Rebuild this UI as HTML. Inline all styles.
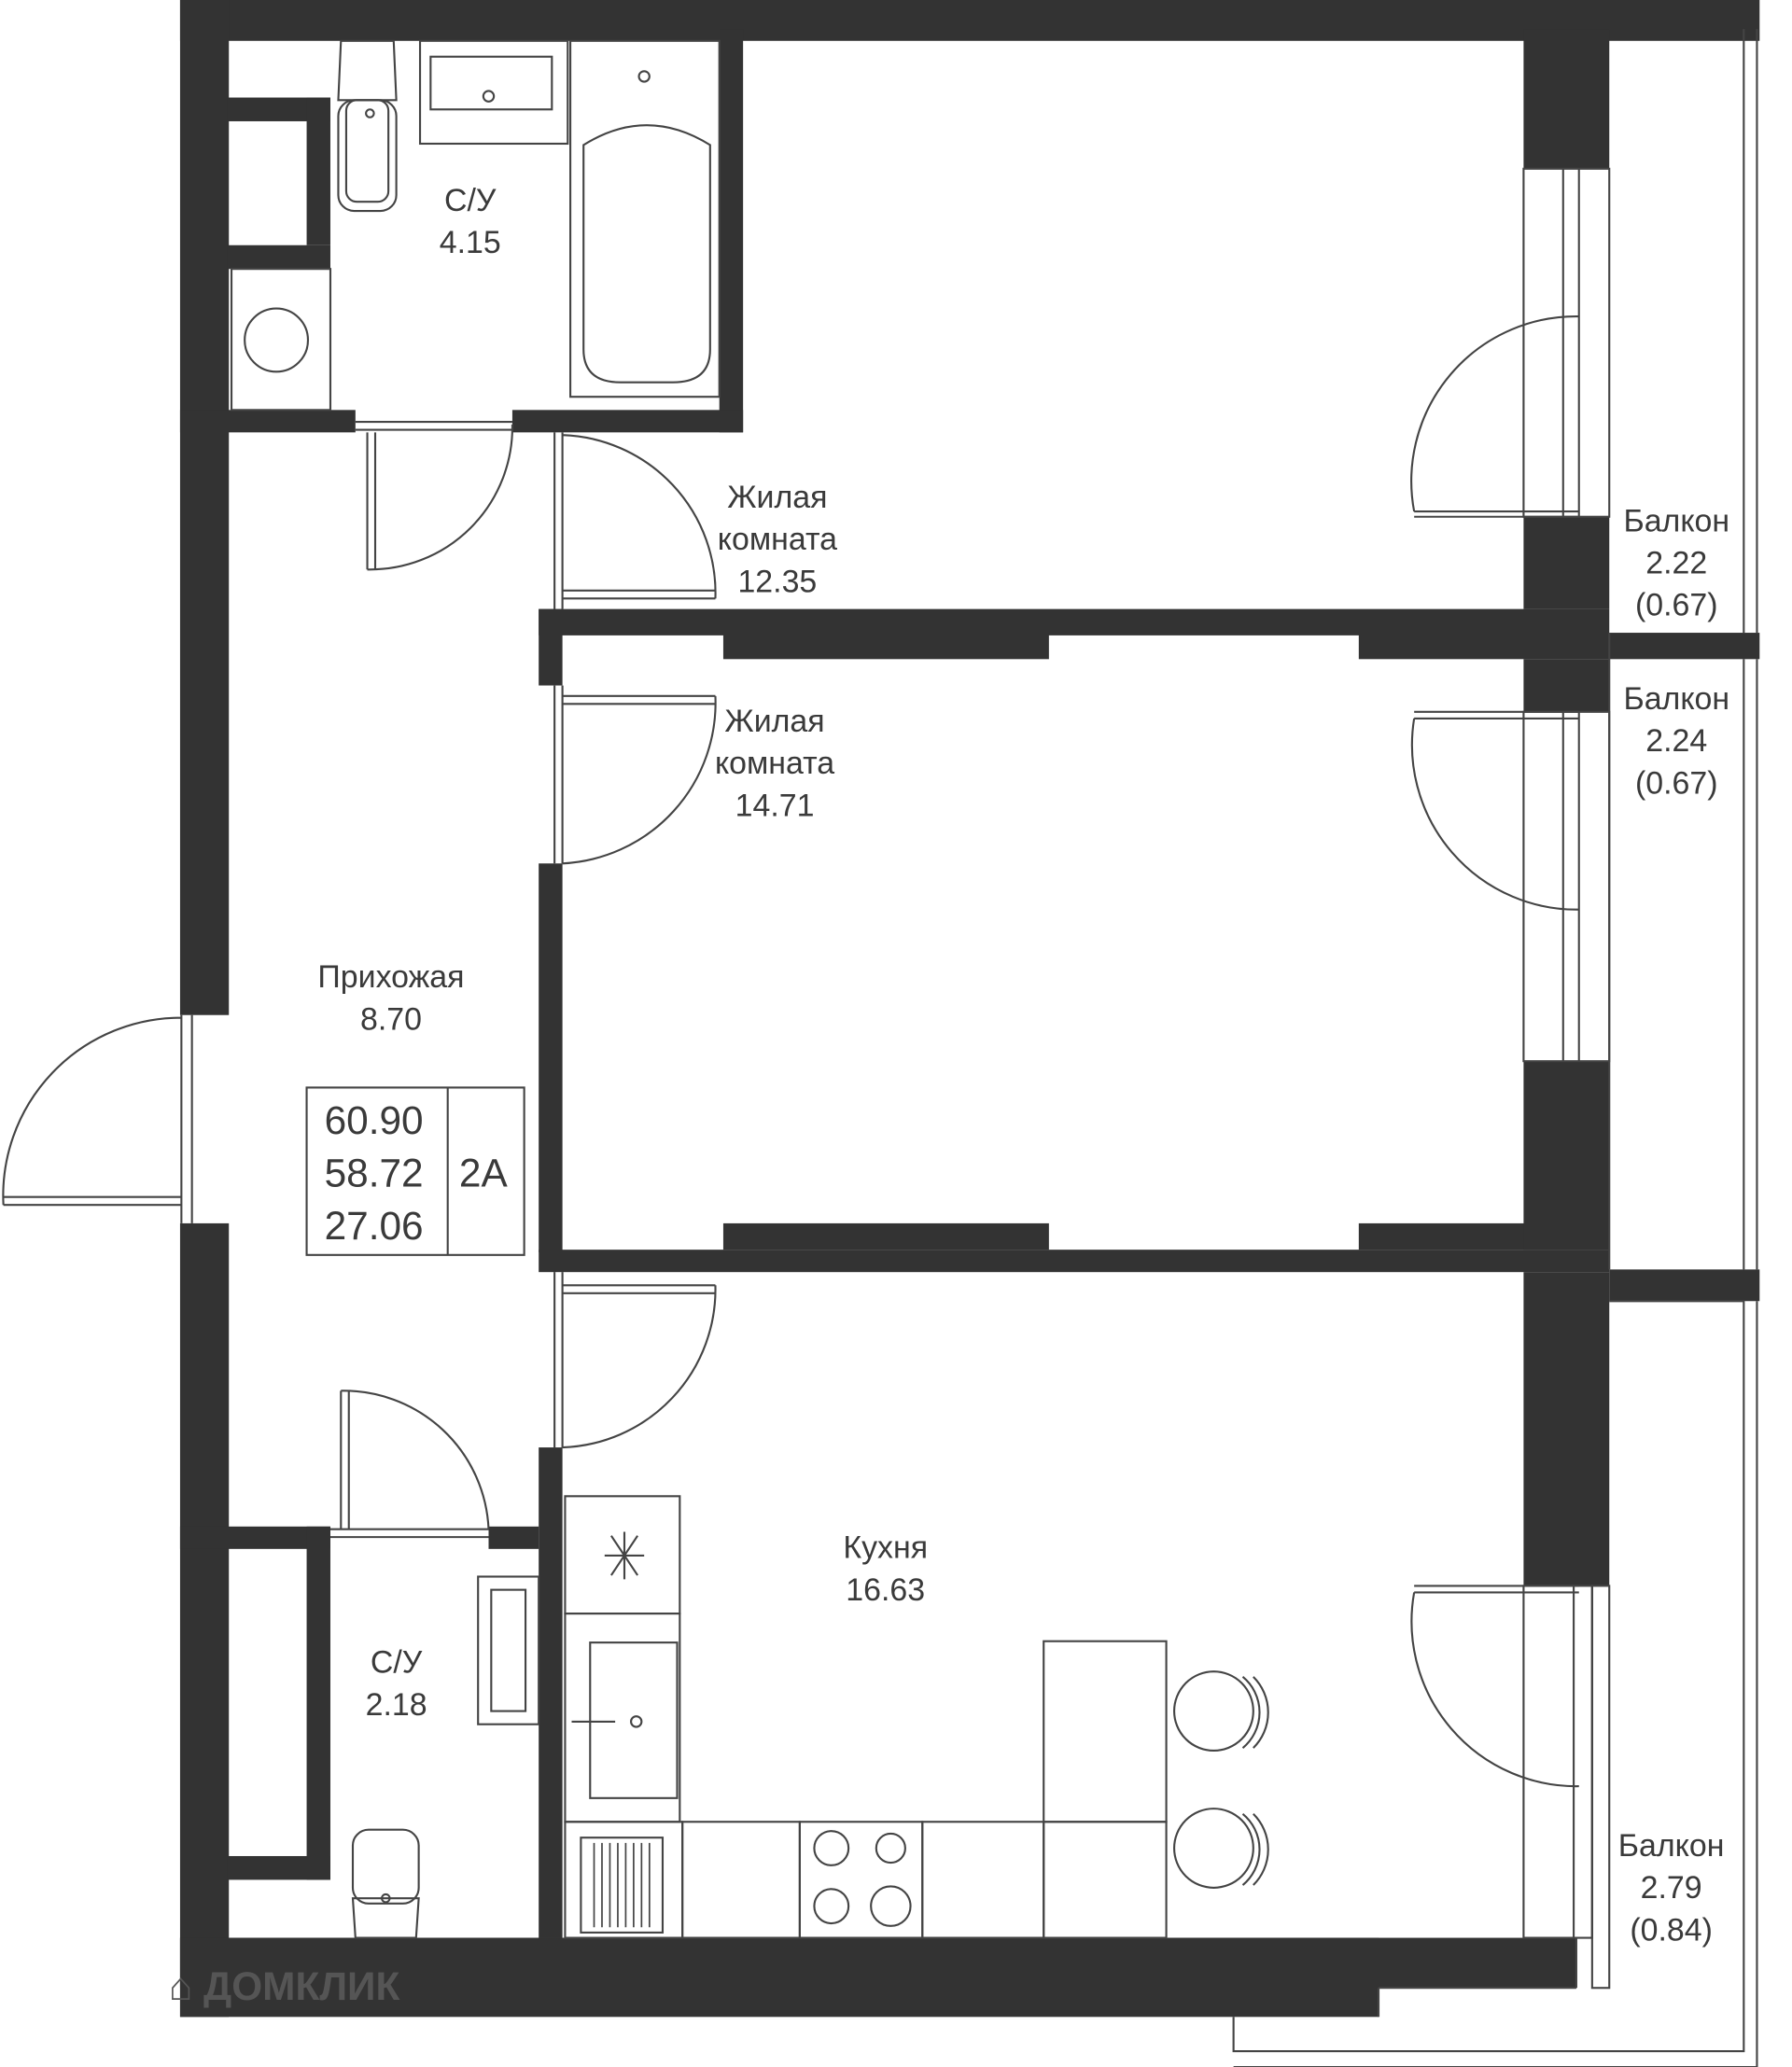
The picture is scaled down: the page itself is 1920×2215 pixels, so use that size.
<!DOCTYPE html>
<html><head><meta charset="utf-8"><style>
html,body{margin:0;padding:0;background:#fff}
svg{display:block}
text{font-family:"Liberation Sans",sans-serif;fill:#3a3a3a;font-size:24px;text-anchor:middle}
</style></head><body>
<svg width="1920" height="2215" viewBox="0 0 1358 1568" xmlns="http://www.w3.org/2000/svg">
<g fill="#333">
<!-- outer walls -->
<rect x="136" y="0" width="1198" height="31"/>
<rect x="136" y="0" width="37" height="770"/>
<rect x="136" y="928" width="37" height="602"/>
<rect x="136" y="1470" width="1059" height="38"/>
<rect x="136" y="1470" width="909" height="60"/>
<!-- top bathroom -->
<rect x="545" y="22" width="18" height="306"/>
<rect x="136" y="311" width="133" height="17"/>
<rect x="388" y="311" width="175" height="17"/>
<rect x="172" y="74" width="78" height="18"/>
<rect x="232" y="74" width="18" height="112"/>
<rect x="172" y="186" width="78" height="18"/>
<!-- interior vertical -->
<rect x="408" y="462" width="18" height="58"/>
<rect x="408" y="655" width="18" height="295"/>
<rect x="408" y="1098" width="18" height="372"/>
<!-- horizontal walls -->
<rect x="408" y="462" width="812" height="20"/>
<rect x="548" y="480" width="247" height="20"/>
<rect x="1030" y="480" width="304" height="20"/>
<rect x="408" y="948" width="812" height="17"/>
<rect x="548" y="928" width="247" height="20"/>
<rect x="1030" y="928" width="190" height="20"/>
<rect x="1220" y="963" width="114" height="24"/>
<!-- right wall -->
<rect x="1155" y="22" width="65" height="106"/>
<rect x="1155" y="392" width="65" height="70"/>
<rect x="1155" y="500" width="65" height="40"/>
<rect x="1155" y="805" width="65" height="143"/>
<rect x="1155" y="965" width="65" height="238"/>
<!-- lower bathroom -->
<rect x="136" y="1158" width="114" height="17"/>
<rect x="370" y="1158" width="38" height="17"/>
<rect x="232" y="1158" width="18" height="268"/>
<rect x="172" y="1408" width="78" height="18"/>
</g>
<g fill="none" stroke="#444" stroke-width="1.5">
<!-- balcony outlines -->
<line x1="1322" y1="22" x2="1322" y2="480"/><line x1="1332" y1="22" x2="1332" y2="480"/>
<line x1="1220" y1="480" x2="1220" y2="963"/><line x1="1322" y1="500" x2="1322" y2="963"/><line x1="1332" y1="500" x2="1332" y2="963"/>
<polyline points="1220,987 1322,987 1322,1556 935,1556 935,1530"/>
<polyline points="1332,987 1332,1568"/>
<line x1="935" y1="1568" x2="1332" y2="1568"/>
<line x1="1045" y1="1508" x2="1045" y2="1530"/>
<line x1="1195" y1="1470" x2="1195" y2="1508"/><line x1="1045" y1="1508" x2="1195" y2="1508"/>
<!-- windows -->
<rect x="1155" y="128" width="65" height="264"/><line x1="1185" y1="128" x2="1185" y2="392"/><line x1="1197" y1="128" x2="1197" y2="392"/>
<rect x="1155" y="540" width="65" height="265"/><line x1="1185" y1="540" x2="1185" y2="805"/><line x1="1197" y1="540" x2="1197" y2="805"/>
<rect x="1155" y="1203" width="52" height="267"/><line x1="1193" y1="1203" x2="1193" y2="1470"/><line x1="1207" y1="1203" x2="1207" y2="1470"/>
<rect x="1207" y="1203" width="13" height="305"/>
<!-- doors -->
<path d="M1072,388 L1197,388 M1072,392 L1197,392 M1072,388 A125,125 0 0 1 1197,240"/>
<path d="M1072,540 L1197,540 M1072,545 L1197,545 M1072,545 A125,125 0 0 0 1197,690"/>
<path d="M1072,1203 L1197,1203 M1072,1208 L1197,1208 M1072,1208 A125,125 0 0 0 1197,1355"/>
<path d="M426,328 L426,462 M420,328 L420,462 M426,448 L542,448 M426,454 L542,454 M542,454 A120,120 0 0 0 426,330"/>
<path d="M426,520 L426,655 M420,520 L420,655 M426,528 L542,528 M426,534 L542,534 M542,528 A122,122 0 0 1 426,655"/>
<path d="M426,965 L426,1098 M420,965 L420,1098 M426,975 L542,975 M426,981 L542,981 M542,975 A120,120 0 0 1 426,1098"/>
<path d="M269,320 L388,320 M269,326 L388,326 M278,328 L278,432 M284,328 L284,432 M278,432 A108,108 0 0 0 388,322"/>
<path d="M250,1160 L370,1160 M250,1166 L370,1166 M258,1055 L258,1160 M264,1055 L264,1160 M258,1055 A110,110 0 0 1 370,1160"/>
<path d="M137,770 L137,928 M145,770 L145,928 M2,908 L137,908 M2,914 L137,914 M2,914 A135,135 0 0 1 137,772"/>
<!-- fixtures top bathroom -->
<rect x="175" y="204" width="75" height="107"/><circle cx="209" cy="258" r="24"/>
<path d="M258,31 L256,76 L300,76 L298,31 Z"/>
<rect x="256" y="76" width="44" height="84" rx="12"/><rect x="262" y="76" width="32" height="77" rx="8"/>
<circle cx="280" cy="86" r="3"/>
<rect x="318" y="31" width="112" height="78"/><rect x="326" y="43" width="92" height="40"/><circle cx="370" cy="73" r="4"/>
<rect x="432" y="31" width="113" height="270"/>
<path d="M442,110 L442,265 Q442,290 470,290 L510,290 Q538,290 538,265 L538,110 Q490,80 442,110 Z"/>
<circle cx="488" cy="58" r="4"/>
<!-- lower bathroom fixtures -->
<rect x="362" y="1196" width="46" height="112"/><rect x="372" y="1206" width="26" height="92"/>
<path d="M269,1470 L267,1440 L317,1440 L315,1470 Z"/><rect x="267" y="1388" width="50" height="56" rx="12"/><circle cx="292" cy="1440" r="3"/>
<!-- kitchen -->
<rect x="428" y="1135" width="87" height="89"/><path d="M463,1165 L483,1195 M483,1165 L463,1195 M458,1180 L488,1180 M473,1162 L473,1198"/>
<rect x="428" y="1224" width="87" height="158"/><rect x="447" y="1246" width="66" height="118"/><circle cx="482" cy="1306" r="4"/><path d="M433,1306 L466,1306"/>
<rect x="428" y="1382" width="89" height="88"/><rect x="440" y="1394" width="62" height="72"/>
<rect x="517" y="1382" width="89" height="88"/>
<rect x="606" y="1382" width="93" height="88"/><circle cx="630" cy="1402" r="13"/><circle cx="675" cy="1402" r="11"/><circle cx="630" cy="1446" r="13"/><circle cx="675" cy="1446" r="15"/>
<rect x="699" y="1382" width="92" height="88"/>
<rect x="791" y="1382" width="93" height="88"/>
<rect x="791" y="1245" width="93" height="137"/>
<circle cx="920" cy="1298" r="30"/><path d="M942,1272 A35,35 0 0 1 942,1326 M950,1272 A38,38 0 0 1 950,1326"/>
<circle cx="920" cy="1402" r="30"/><path d="M942,1376 A35,35 0 0 1 942,1430 M950,1376 A38,38 0 0 1 950,1430"/>
<!-- info box -->
<rect x="232" y="825" width="165" height="127"/><line x1="339" y1="825" x2="339" y2="952"/>
</g>
<g stroke="#444" stroke-width="1.2">
<path d="M450,1398 L450,1462 M456,1398 L456,1462 M462,1398 L462,1462 M468,1398 L468,1462 M474,1398 L474,1462 M480,1398 L480,1462 M486,1398 L486,1462 M492,1398 L492,1462"/>
</g>
<text x="356" y="160">С/У</text><text x="356" y="192">4.15</text>
<text x="589" y="385">Жилая</text><text x="589" y="417">комната</text><text x="589" y="449">12.35</text>
<text x="587" y="555">Жилая</text><text x="587" y="587">комната</text><text x="587" y="619">14.71</text>
<text x="296" y="749">Прихожая</text><text x="296" y="781">8.70</text>
<text x="671" y="1182">Кухня</text><text x="671" y="1214">16.63</text>
<text x="300" y="1269">С/У</text><text x="300" y="1301">2.18</text>
<text x="1271" y="403">Балкон</text><text x="1271" y="435">2.22</text><text x="1271" y="467">(0.67)</text>
<text x="1271" y="538">Балкон</text><text x="1271" y="570">2.24</text><text x="1271" y="602">(0.67)</text>
<text x="1267" y="1408">Балкон</text><text x="1267" y="1440">2.79</text><text x="1267" y="1472">(0.84)</text>
<text x="283" y="860" style="font-size:30px">60.90</text>
<text x="283" y="900" style="font-size:30px">58.72</text>
<text x="283" y="940" style="font-size:30px">27.06</text>
<text x="366" y="900" style="font-size:30px">2А</text>
<text x="215" y="1517" style="font-size:30px;fill:#555;font-weight:bold">⌂ ДОМКЛИК</text>
</svg>
</body></html>
